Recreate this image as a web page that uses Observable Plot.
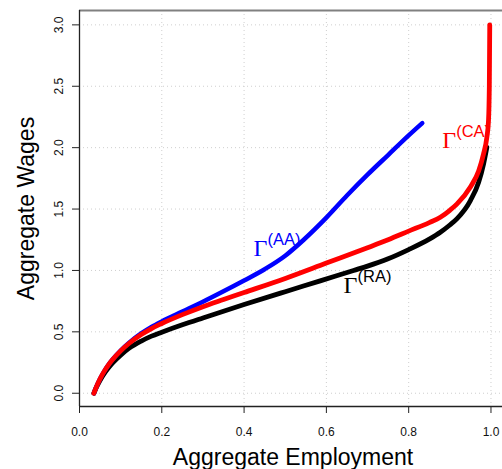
<!DOCTYPE html>
<html>
<head>
<meta charset="utf-8">
<script src="https://cdn.jsdelivr.net/npm/d3@7"></script>
<script src="https://cdn.jsdelivr.net/npm/@observablehq/plot@0.6"></script>
<style>
  html, body { margin: 0; padding: 0; background: #fff; }
  svg { display: block; }
</style>
</head>
<body>
<div id="chart"></div>
<script>
// ---- data ----
const xTicks = [0, 0.2, 0.4, 0.6, 0.8, 1.0];
const yTicks = [0, 0.5, 1.0, 1.5, 2.0, 2.5, 3.0];
const xDomain = [0, 1.028];
const yDomain = [-0.108, 3.117];

const employmentRA = [0.035,0.04,0.05,0.06,0.07,0.08,0.10,0.12,0.15,0.175,0.20,0.25,0.30,0.35,0.40,0.50,0.585,0.666,0.70,0.75,0.80,0.85,0.877,0.90,0.917,0.95,0.97,0.982,0.99];
const wagesRA      = [0.00,0.04,0.106,0.16,0.205,0.245,0.31,0.365,0.425,0.465,0.497,0.557,0.613,0.668,0.722,0.827,0.915,1.00,1.035,1.095,1.17,1.255,1.311,1.37,1.42,1.569,1.718,1.868,2.003];

const employmentCA = [0.035,0.04,0.05,0.06,0.07,0.08,0.10,0.12,0.15,0.175,0.20,0.25,0.30,0.35,0.40,0.50,0.60,0.70,0.75,0.80,0.85,0.877,0.90,0.917,0.95,0.97,0.982,0.99,0.994,0.996,0.997];
const wagesCA      = [0.00,0.044,0.118,0.178,0.229,0.272,0.345,0.405,0.478,0.527,0.568,0.64,0.705,0.763,0.82,0.935,1.06,1.185,1.25,1.32,1.39,1.433,1.49,1.54,1.68,1.81,1.95,2.085,2.22,2.5,3.0];

const employmentAA = [0.035,0.04,0.05,0.06,0.07,0.08,0.10,0.12,0.15,0.175,0.20,0.25,0.30,0.35,0.40,0.45,0.50,0.545,0.60,0.65,0.70,0.75,0.80,0.833];
const wagesAA      = [0.00,0.044,0.118,0.178,0.229,0.273,0.348,0.41,0.487,0.54,0.585,0.665,0.745,0.83,0.918,1.01,1.12,1.25,1.43,1.61,1.78,1.94,2.10,2.20];

const seriesNames = ["RA", "AA", "CA"];          // drawing order
const seriesColors = {RA: "#000000", AA: "#0000ff", CA: "#ff0000"};
// label anchors (data coordinates of the Γ glyph's left baseline)
const labelAnchors = [
  {series: "AA", x: 0.4228, y: 1.117},
  {series: "RA", x: 0.6416, y: 0.82},
  {series: "CA", x: 0.8814, y: 2.0}
];

// ---- build tables ----
const toRows = (xs, ys, s) => xs.map((x, i) => ({x, y: ys[i], series: s}));
const rows = {
  RA: toRows(employmentRA, wagesRA, "RA"),
  CA: toRows(employmentCA, wagesCA, "CA"),
  AA: toRows(employmentAA, wagesAA, "AA")
};

const sans = "'Liberation Sans', Arial, Helvetica, sans-serif";
const serif = "'Liberation Serif', 'Times New Roman', serif";

const gridStyle = {stroke: "#cfcfcf", strokeWidth: 1, strokeDasharray: "1,3"};

const marks = [
  // grid
  Plot.ruleX(xTicks, {x: d => d, ...gridStyle}),
  Plot.ruleY(yTicks, {y: d => d, ...gridStyle}),
  // top border (gray) and left/bottom axis lines
  Plot.ruleY([yDomain[1]], {y: d => d, stroke: "#808080", strokeWidth: 2}),
  Plot.ruleX([xDomain[0]], {x: d => d, stroke: "#222", strokeWidth: 1.3}),
  Plot.ruleY([yDomain[0]], {y: d => d, stroke: "#222", strokeWidth: 1.3}),
  // tick marks
  Plot.axisX({ticks: xTicks, tickSize: 7, tickFormat: () => "", label: null, stroke: "#222"}),
  Plot.axisY({ticks: yTicks, tickSize: 7, tickFormat: () => "", label: null, stroke: "#222"}),
  // tick labels
  Plot.text(xTicks, {x: d => d, text: d => d.toFixed(1), frameAnchor: "bottom", dy: 29,
    lineAnchor: "bottom", fontSize: 12, fontFamily: sans, fill: "#111"}),
  Plot.text(yTicks, {y: d => d, text: d => d.toFixed(1), frameAnchor: "left", dx: -17,
    rotate: -90, textAnchor: "middle", lineAnchor: "bottom", fontSize: 12, fontFamily: sans, fill: "#111"}),
  // axis titles
  Plot.text(["Aggregate Employment"], {text: d => d, frameAnchor: "bottom", dy: 58, dx: 2,
    lineAnchor: "bottom", fontSize: 23, fontFamily: sans, fill: "#000"}),
  Plot.text(["Aggregate Wages"], {text: d => d, frameAnchor: "left", dx: -46,
    rotate: -90, textAnchor: "middle", lineAnchor: "bottom", fontSize: 23, fontFamily: sans, fill: "#000"}),
  // curve labels: Γ with superscript
  Plot.text(labelAnchors, {x: "x", y: "y", text: () => "Γ", textAnchor: "start", lineAnchor: "bottom",
    fontSize: 24, fontFamily: serif, fill: d => seriesColors[d.series]}),
  Plot.text(labelAnchors, {x: "x", y: "y", text: d => "(" + d.series + ")", dx: 14, dy: -11,
    textAnchor: "start", lineAnchor: "bottom", fontSize: 16.5, fontFamily: sans, fill: d => seriesColors[d.series]}),
  // curves
  ...seriesNames.map(s => Plot.line(rows[s], {x: "x", y: "y", stroke: seriesColors[s],
    strokeWidth: s === "AA" ? 4.5 : 4.8, curve: "monotone-x", strokeLinecap: "round", strokeLinejoin: "round"}))
];

const chart = Plot.plot({
  width: 502,
  height: 469,
  marginLeft: 79,
  marginRight: 0,
  marginTop: 10,
  marginBottom: 63,
  style: {background: "#fff", fontFamily: sans, overflow: "visible"},
  x: {domain: xDomain, axis: null},
  y: {domain: yDomain, axis: null},
  marks
});
document.getElementById("chart").appendChild(chart);
</script>
</body>
</html>
